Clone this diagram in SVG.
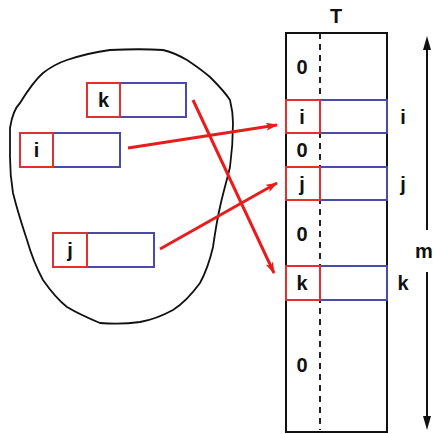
<svg xmlns="http://www.w3.org/2000/svg" width="433" height="434" viewBox="0 0 433 434">
<defs>
<style>
.lbl{font-family:"Liberation Sans",Arial,sans-serif;font-weight:bold;font-size:20px;fill:#111;text-anchor:middle;dominant-baseline:central}
.red{fill:none;stroke:#e03030;stroke-width:2}
.blue{fill:none;stroke:#4a4aa8;stroke-width:2}
.conn{stroke:#e81c1c;stroke-width:3;fill:none}
.blk{stroke:#111;fill:none}
</style>
<marker id="ah" markerWidth="12" markerHeight="8" refX="11" refY="4" orient="auto" markerUnits="userSpaceOnUse">
<path d="M0,0 L12,4 L0,8 L3,4 Z" fill="#e81c1c"/>
</marker>
</defs>
<rect width="433" height="434" fill="#fff"/>
<g id="set">
<path class="blk" stroke-width="1.8" d="M10,128 C12,115 15,108 20,103 C28,90 35,80 43,73 C52,66 58,63 67,60 C82,55 95,52 110,50 C130,49 148,49 163,50 C172,52 180,56 187,60 C196,66 203,71 210,77 C218,85 225,92 230,100 C232,108 233,115 233,123 C233,138 232,152 230,167 C227,180 223,193 220,207 C217,220 215,233 213,247 C210,260 206,272 200,283 C192,294 184,303 173,310 C162,316 152,320 140,322 C126,324 113,324 100,323 C88,318 77,313 67,307 C58,300 50,290 43,280 C36,267 31,254 27,240 C22,225 17,209 13,193 C11,181 10,169 10,157 Z"/>
</g>
<g id="node-k">
<rect class="blue" x="120" y="83" width="66" height="34"/>
<rect class="red" x="87" y="83" width="33" height="34"/>
<text class="lbl" x="103.5" y="100">k</text>
</g>
<g id="node-i">
<rect class="blue" x="53" y="133" width="67" height="34"/>
<rect class="red" x="20" y="133" width="33" height="34"/>
<text class="lbl" x="36.5" y="150">i</text>
</g>
<g id="node-j">
<rect class="blue" x="87" y="233" width="67" height="34"/>
<rect class="red" x="53" y="233" width="34" height="34"/>
<text class="lbl" x="70" y="250">j</text>
</g>
<g id="table-T">
<text class="lbl" x="336" y="16">T</text>
<rect class="blk" stroke-width="2" x="286" y="33" width="101" height="399"/>
<line x1="320" y1="33" x2="320" y2="430" stroke="#222" stroke-width="2" stroke-dasharray="6,5"/>
<text class="lbl" x="302" y="67">0</text>
<text class="lbl" x="302" y="150">0</text>
<text class="lbl" x="302" y="234">0</text>
<text class="lbl" x="302" y="365">0</text>
</g>
<g id="slot-i">
<rect class="blue" x="320" y="100" width="67" height="33"/>
<rect class="red" x="286" y="100" width="34" height="33"/>
<text class="lbl" x="302" y="117">i</text>
<text class="lbl" x="403" y="117">i</text>
</g>
<g id="slot-j">
<rect class="blue" x="320" y="167" width="67" height="33"/>
<rect class="red" x="286" y="167" width="34" height="33"/>
<text class="lbl" x="302" y="184">j</text>
<text class="lbl" x="403" y="184">j</text>
</g>
<g id="slot-k">
<rect class="blue" x="320" y="266" width="67" height="34"/>
<rect class="red" x="286" y="266" width="34" height="34"/>
<text class="lbl" x="302" y="283">k</text>
<text class="lbl" x="403" y="283">k</text>
</g>
<g id="dim-m">
<line x1="427" y1="48" x2="427" y2="230" stroke="#111" stroke-width="2"/>
<path d="M427,36 L423,50 L431,50 Z" fill="#111"/>
<line x1="427" y1="272" x2="427" y2="418" stroke="#111" stroke-width="2"/>
<path d="M427,430 L423,416 L431,416 Z" fill="#111"/>
<text class="lbl" x="424" y="251">m</text>
</g>
<g id="connectors">
<line class="conn" x1="128" y1="148" x2="277" y2="125" marker-end="url(#ah)"/>
<line class="conn" x1="160" y1="249" x2="277" y2="183" marker-end="url(#ah)"/>
<line class="conn" x1="193" y1="100" x2="274" y2="273" marker-end="url(#ah)"/>
</g>
</svg>
